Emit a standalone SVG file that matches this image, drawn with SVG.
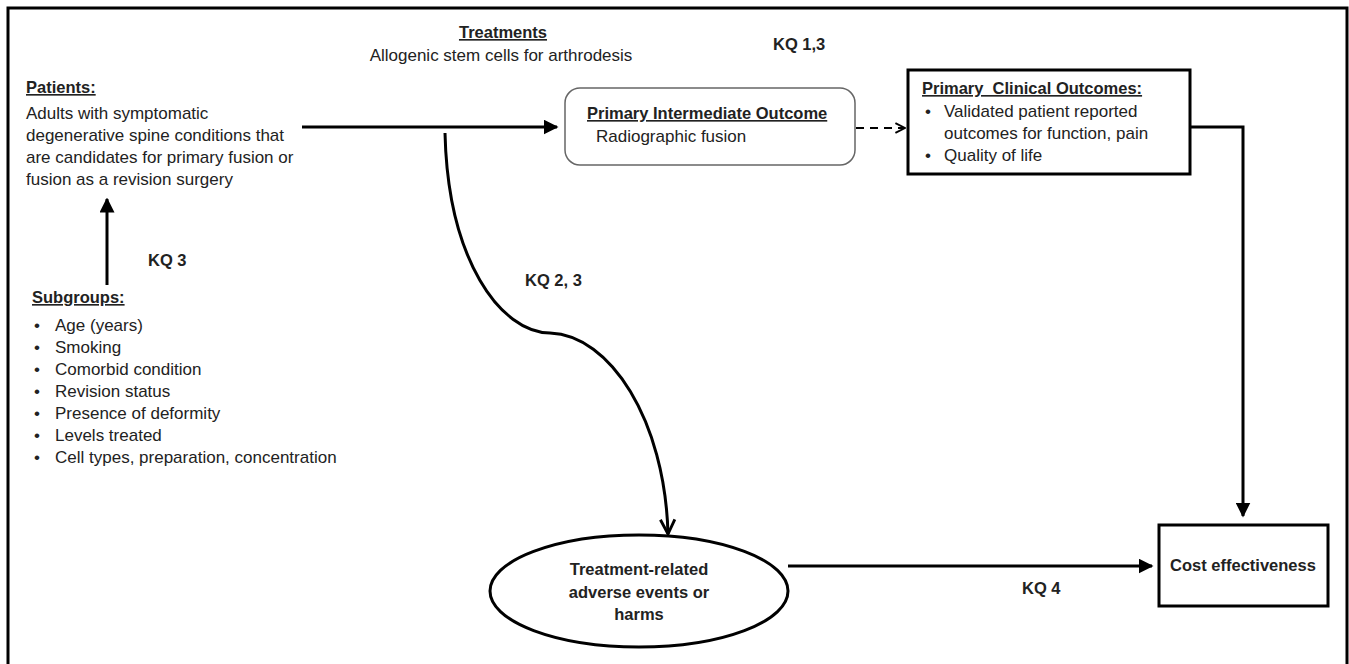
<svg xmlns="http://www.w3.org/2000/svg" width="1349" height="664" viewBox="0 0 1349 664">
<defs>
<style>
text{font-family:"Liberation Sans",Arial,sans-serif;font-size:17px;fill:#222}
.b{font-weight:bold;font-size:16.5px}
.u{text-decoration:underline}
.c{text-anchor:middle}
.ln{fill:none;stroke:#000;stroke-width:3}
</style>
<marker id="tri" viewBox="0 0 10 10" refX="9" refY="5" markerWidth="5" markerHeight="5" orient="auto" markerUnits="strokeWidth">
<path d="M0,0 L10,5 L0,10 Z" fill="#000"/>
</marker>
<marker id="chev" viewBox="0 0 10 10" refX="9" refY="5" markerWidth="6" markerHeight="6" orient="auto" markerUnits="strokeWidth">
<path d="M1,1 L9,5 L1,9" fill="none" stroke="#000" stroke-width="1.6"/>
</marker>
</defs>
<rect width="1349" height="664" fill="#fff"/>
<path d="M8,670 V8 H1347 V670" fill="none" stroke="#000" stroke-width="3"/>

<g id="treatments">
<text x="503" y="38" class="b u c">Treatments</text>
<text x="501" y="61" class="c">Allogenic stem cells for arthrodesis</text>
</g>

<g id="patients">
<text x="26" y="93" class="b u">Patients:</text>
<text x="26" y="119">Adults with symptomatic</text>
<text x="26" y="141">degenerative spine conditions that</text>
<text x="26" y="163">are candidates for primary fusion or</text>
<text x="26" y="185">fusion as a revision surgery</text>
</g>

<g id="subgroups">
<text x="32" y="303" class="b u">Subgroups:</text>
<g>
<text x="34" y="331">•</text><text x="55" y="331">Age (years)</text>
<text x="34" y="353">•</text><text x="55" y="353">Smoking</text>
<text x="34" y="375">•</text><text x="55" y="375">Comorbid condition</text>
<text x="34" y="397">•</text><text x="55" y="397">Revision status</text>
<text x="34" y="419">•</text><text x="55" y="419">Presence of deformity</text>
<text x="34" y="441">•</text><text x="55" y="441">Levels treated</text>
<text x="34" y="463">•</text><text x="55" y="463">Cell types, preparation, concentration</text>
</g>
</g>

<g id="intermediate">
<rect x="565" y="88" width="290" height="77" rx="15" ry="15" fill="#fff" stroke="#666" stroke-width="1.5"/>
<text x="587" y="119" class="b u">Primary Intermediate Outcome</text>
<text x="596" y="142">Radiographic fusion</text>
</g>

<g id="clinical">
<rect x="908" y="70" width="282" height="104" fill="#fff" stroke="#000" stroke-width="3"/>
<text x="922" y="94" class="b u" xml:space="preserve">Primary  Clinical Outcomes:</text>
<text x="925" y="117">•</text><text x="944" y="117">Validated patient reported</text>
<text x="944" y="139">outcomes for function, pain</text>
<text x="925" y="161">•</text><text x="944" y="161">Quality of life</text>
</g>

<g id="harms">
<ellipse cx="639" cy="591" rx="149" ry="56" fill="#fff" stroke="#000" stroke-width="3"/>
<text x="639" y="575" class="b c">Treatment-related</text>
<text x="639" y="598" class="b c">adverse events or</text>
<text x="639" y="620" class="b c">harms</text>
</g>

<g id="cost">
<rect x="1159" y="525" width="169" height="81" fill="#fff" stroke="#000" stroke-width="3"/>
<text x="1243" y="571" class="b c">Cost effectiveness</text>
</g>

<g id="connectors">
<line x1="302" y1="127" x2="557" y2="127" class="ln" marker-end="url(#tri)"/>
<line x1="856" y1="128" x2="905" y2="128" fill="none" stroke="#000" stroke-width="2" stroke-dasharray="8,6" marker-end="url(#chev)"/>
<path d="M1190,127 H1243 V516" class="ln" marker-end="url(#tri)"/>
<path d="M445,133 C448,260 500,332 550,333 C610,335 665,420 668,534" class="ln" marker-end="url(#chev)"/>
<line x1="788" y1="566" x2="1152" y2="566" class="ln" marker-end="url(#tri)"/>
<line x1="107" y1="285" x2="107" y2="199" class="ln" marker-end="url(#tri)"/>
</g>

<g id="labels">
<text x="773" y="50" class="b">KQ 1,3</text>
<text x="148" y="266" class="b">KQ 3</text>
<text x="525" y="286" class="b">KQ 2, 3</text>
<text x="1022" y="594" class="b">KQ 4</text>
</g>
</svg>
